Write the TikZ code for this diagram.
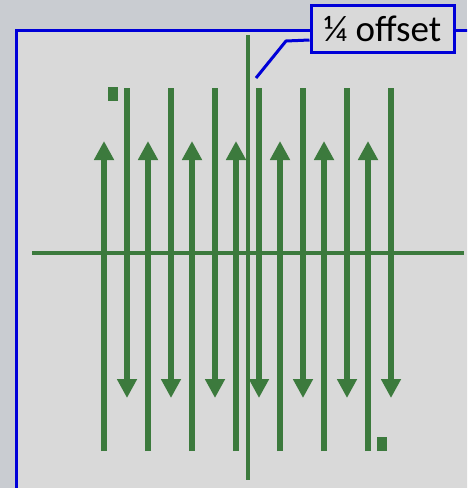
\documentclass[tikz,border=0pt]{standalone}
\usepackage{fontspec}
\setmainfont{Carlito}
\usetikzlibrary{arrows.meta}
\definecolor{outerbg}{HTML}{C9CCD1}
\definecolor{panelbg}{HTML}{D9D9D9}
\definecolor{strand}{HTML}{3C7A3D}
\definecolor{frameblue}{HTML}{0000D8}
\tikzset{
  x=1pt,y=-1pt,
  downarrow/.style={strand,line width=6pt,-{Triangle[width=19pt,length=19pt]}},
  uparrow/.style={strand,line width=6pt,-{Triangle[width=19pt,length=19pt]}},
  axisline/.style={strand,line width=4pt},
  marker/.style={fill=strand,draw=none},
  labelbox/.style={draw=frameblue,line width=3pt,fill=panelbg,minimum width=143pt,minimum height=47pt,inner sep=0pt,font=\fontsize{37}{41}\selectfont},
  leader/.style={frameblue,line width=3pt}
}
\begin{document}
\begin{tikzpicture}
\useasboundingbox (0,0) rectangle (467,488);
\clip (0,0) rectangle (467,488);
\fill[outerbg] (0,0) rectangle (467,488);
\draw[frameblue,line width=3pt,fill=panelbg] (16,30) rectangle (480,500);
% down arrows
\foreach \i in {0,...,6}{
  \draw[downarrow] ({127+44*\i},88) -- ({127+44*\i},398);
}
% up arrows
\foreach \i in {0,...,6}{
  \draw[uparrow] ({104+44*\i},451) -- ({104+44*\i},141);
}
% axes
\draw[axisline] (32,253) -- (464,253);
\draw[axisline] (248,35) -- (248,480);
% markers
\fill[marker] (108,87) rectangle (118,101);
\fill[marker] (377,437) rectangle (387,451);
% label
\node[labelbox] (lbl) at (382.5,28.5) {¼ offset};
\coordinate (tip) at (256,78);
\draw[leader] ([yshift=-11.5pt]lbl.west) -- (286,41) -- (tip);
\end{tikzpicture}
\end{document}
